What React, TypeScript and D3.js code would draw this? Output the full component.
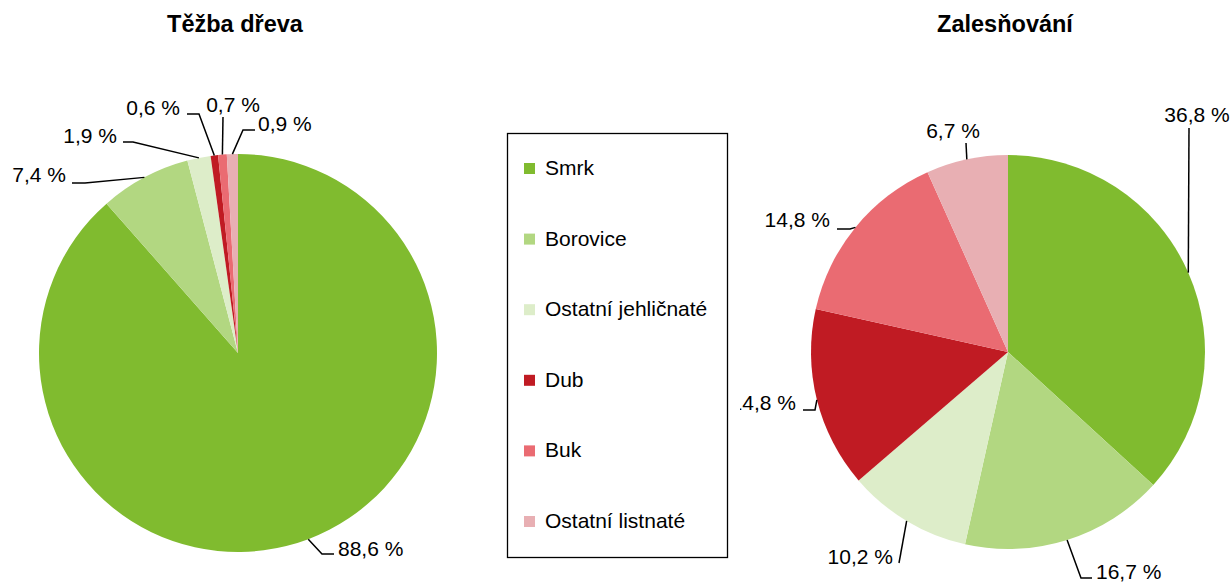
import React from 'react';
import * as d3 from 'd3';

// Data
const categories = ['Smrk', 'Borovice', 'Ostatní jehličnaté', 'Dub', 'Buk', 'Ostatní listnaté'];
const tezbaValues = [88.6, 7.4, 1.9, 0.6, 0.7, 0.9];
const zalesnovaniValues = [36.8, 16.7, 10.2, 14.8, 14.8, 6.7];
const chartTitles = ['Těžba dřeva', 'Zalesňování'];
const colors = ['#80bb2f', '#b2d781', '#ddedc9', '#c01b23', '#ea6b72', '#e8afb3'];

// Label layout (offsets from pie centre): knee of leader, end of hook, text anchor point
type LabelPos = { knee: [number, number]; hook: number; text: [number, number]; anchor: string };
const tezbaLabels: LabelPos[] = [
    { knee: [84, 201], hook: 12, text: [100, 203], anchor: 'start' },
    { knee: [-153, -170], hook: -13, text: [-172, -171], anchor: 'end' },
    { knee: [-105, -211], hook: -10, text: [-121, -210], anchor: 'end' },
    { knee: [-39, -239], hook: -12, text: [-58, -238], anchor: 'end' },
    { knee: [-15, -236], hook: 0, text: [-5, -241], anchor: 'middle' },
    { knee: [5, -223], hook: 12, text: [20, -222], anchor: 'start' }
];
const zalesLabels: LabelPos[] = [
    { knee: [181, -224], hook: 0, text: [189, -230], anchor: 'middle' },
    { knee: [73, 226], hook: 11, text: [88, 227], anchor: 'start' },
    { knee: [-109, 211], hook: 0, text: [-115, 212], anchor: 'end' },
    { knee: [-193, 58], hook: -12, text: [-212, 58], anchor: 'end' },
    { knee: [-158, -123], hook: -13, text: [-178, -125], anchor: 'end' },
    { knee: [-42, -209], hook: 0, text: [-55, -214], anchor: 'middle' }
];

const font = '"Liberation Sans", Arial, sans-serif';

function Pie({ values, labels, cx, cy, r, title, clipId, clipX }: any) {
    const pie = d3.pie<number>().sort(null).value(d => d);
    const arcs = pie(values);
    const arc = d3.arc<d3.PieArcDatum<number>>().innerRadius(0).outerRadius(r);
    const edge = d3.arc<d3.PieArcDatum<number>>().innerRadius(r).outerRadius(r);
    const fmt = (v: number) => d3.format('.1f')(v).replace('.', ',') + ' %';

    return (
        <g>
            <text x={cx - 3} y={32} textAnchor="middle" fontFamily={font} fontWeight="bold" fontSize={23.5}>{title}</text>
            <defs>
                <clipPath id={clipId}><rect x={clipX} y={-cy} width={1231} height={583} /></clipPath>
            </defs>
            <g transform={`translate(${cx},${cy})`} clipPath={`url(#${clipId})`}>
                {arcs.map((a, i) => (
                    <path key={i} d={arc(a) || ''} fill={colors[i]} />
                ))}
                {arcs.map((a, i) => {
                    const p = edge.centroid(a);
                    const L = labels[i];
                    const pts: [number, number][] = [p, L.knee, [L.knee[0] + L.hook, L.knee[1]]];
                    return (
                        <g key={'l' + i}>
                            <path d={d3.line()(pts) || ''} fill="none" stroke="#000" strokeWidth={1.5} />
                            <text x={L.text[0]} y={L.text[1]} textAnchor={L.anchor} fontFamily={font} fontSize={21}>{fmt(values[i])}</text>
                        </g>
                    );
                })}
            </g>
        </g>
    );
}

export default function App() {
    const legendY = d3.scalePoint<string>().domain(categories).range([168, 521]);
    return (
        <div style={{ position: 'fixed', left: 0, top: 0 }}>
            <svg width={1231} height={583} style={{ display: 'block', background: '#fff' }}>
                <Pie values={tezbaValues} labels={tezbaLabels} cx={238} cy={353} r={199} title={chartTitles[0]} clipId="c1" clipX={-238} />
                <Pie values={zalesnovaniValues} labels={zalesLabels} cx={1008} cy={352} r={197} title={chartTitles[1]} clipId="c2" clipX={740 - 1008} />
                <rect x={507.5} y={133.5} width={220} height={424} fill="#fff" stroke="#000" strokeWidth={1.3} />
                {categories.map((c, i) => (
                    <g key={c}>
                        <rect x={524} y={(legendY(c) || 0) - 5} width={11} height={11} fill={colors[i]} />
                        <text x={545} y={(legendY(c) || 0) + 7} fontFamily={font} fontSize={21}>{c}</text>
                    </g>
                ))}
            </svg>
        </div>
    );
}
